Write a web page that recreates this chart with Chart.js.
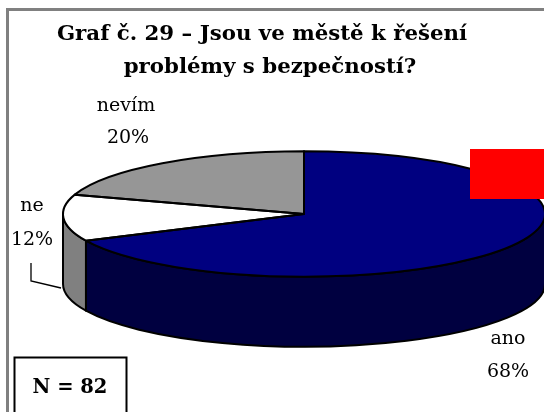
<!DOCTYPE html>
<html><head><meta charset="utf-8">
<style>html,body{margin:0;padding:0;background:#fff;overflow:hidden}canvas{display:block}</style>
<script src="https://cdn.jsdelivr.net/npm/chart.js@4"></script>
</head><body><canvas id="c" width="544" height="412"></canvas>
<script>
const categories = ["ano", "ne", "nevím"];
const values = [68, 12, 20];
const percentLabels = ["68%", "12%", "20%"];
const topColors = ["#000080", "#ffffff", "#969696"];
const sideColors = ["#000040", "#808080", "#4b4b4b"];
const titleLines = ["Graf č. 29 – Jsou ve městě k řešení", "problémy s bezpečností?"];
const sampleText = "N = 82";

const SQUASH = 0.26, DEPTH = 70;
const SERIF = '"DejaVu Serif", serif';

function norm(a){ const t = Math.PI*2; return ((a % t) + t) % t; }

const pie3d = {
  id: "pie3d",
  beforeDraw(chart){
    const ctx = chart.ctx;
    ctx.save();
    ctx.strokeStyle = "#808080"; ctx.lineWidth = 3;
    ctx.beginPath(); ctx.moveTo(7.5,412); ctx.lineTo(7.5,9.5); ctx.lineTo(544,9.5); ctx.stroke();
    ctx.restore();
  },
  beforeDatasetsDraw(chart){
    const ctx = chart.ctx, arcs = chart.getDatasetMeta(0).data;
    arcs.forEach((el, i) => {
      const s = norm(el.startAngle); let e = s + (el.endAngle - el.startAngle);
      for (const off of [0, Math.PI*2]) {
        const a = Math.max(s, off), b = Math.min(e, off + Math.PI);
        if (b <= a) continue;
        const ry = el.outerRadius * SQUASH;
        ctx.save();
        ctx.beginPath();
        ctx.ellipse(el.x, el.y, el.outerRadius, ry, 0, a, b);
        ctx.ellipse(el.x, el.y + DEPTH, el.outerRadius, ry, 0, b, a, true);
        ctx.closePath();
        ctx.fillStyle = sideColors[i]; ctx.fill();
        ctx.strokeStyle = "#000"; ctx.lineWidth = 2; ctx.lineJoin = "round"; ctx.stroke();
        ctx.restore();
      }
    });
    const el = arcs[0];
    ctx.save();
    ctx.translate(el.x, el.y); ctx.scale(1, SQUASH); ctx.translate(-el.x, -el.y);
  },
  afterDatasetsDraw(chart){
    const ctx = chart.ctx, arcs = chart.getDatasetMeta(0).data;
    ctx.restore();
    arcs.forEach(el => {
      ctx.save();
      ctx.beginPath();
      ctx.moveTo(el.x, el.y);
      ctx.ellipse(el.x, el.y, el.outerRadius, el.outerRadius * SQUASH, 0, el.startAngle, el.endAngle);
      ctx.closePath();
      ctx.strokeStyle = "#000"; ctx.lineWidth = 2; ctx.lineJoin = "round"; ctx.stroke();
      ctx.restore();
    });
    // decoration and text
    ctx.save();
    ctx.fillStyle = "#ff0000"; ctx.fillRect(470, 149, 74, 50);
    ctx.strokeStyle = "#000"; ctx.lineWidth = 1.3;
    ctx.beginPath(); ctx.moveTo(31, 263); ctx.lineTo(31, 281); ctx.lineTo(61, 288); ctx.stroke();
    ctx.fillStyle = "#fff"; ctx.fillRect(14.5, 357.5, 112, 60);
    ctx.lineWidth = 2; ctx.strokeRect(14.5, 357.5, 112, 60);
    ctx.textAlign = "center"; ctx.textBaseline = "middle"; ctx.fillStyle = "#000";
    ctx.font = "bold 21.3px " + SERIF;
    ctx.fillText(titleLines[0], 262, 34);
    ctx.fillText(titleLines[1], 270, 67);
    ctx.font = "19px " + SERIF;
    const pos = [[508,339,508,372],[32,206,32,240],[126,106,128,138]];
    categories.forEach((c,i) => {
      ctx.fillText(c, pos[i][0], pos[i][1]);
      ctx.fillText(percentLabels[i], pos[i][2], pos[i][3]);
    });
    ctx.font = "bold 19.5px " + SERIF;
    ctx.fillText(sampleText, 70, 388);
    ctx.restore();
  }
};

new Chart(document.getElementById("c"), {
  type: "pie",
  data: { labels: categories, datasets: [{ data: values, backgroundColor: topColors, borderWidth: 0, clip: false }] },
  options: {
    responsive: false, animation: false, radius: 241,
    layout: { padding: { left: 64, top: 16 } },
    plugins: { legend: { display: false }, tooltip: { enabled: false } }
  },
  plugins: [pie3d]
});
</script></body></html>
